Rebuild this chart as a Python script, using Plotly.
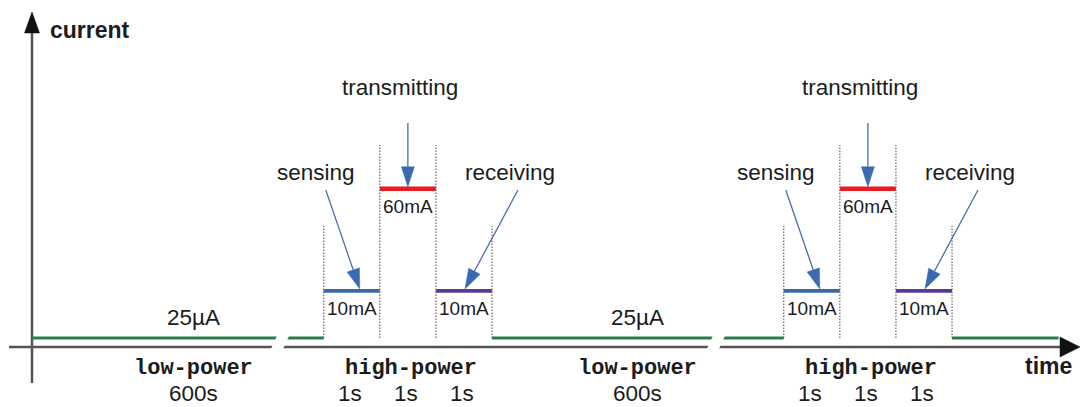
import plotly.graph_objects as go

# --- chart data ---
PHASES = ["low-power", "sensing", "transmitting", "receiving"]
PHASE_CURRENT = ["25µA", "10mA", "60mA", "10mA"]
PHASE_DURATION = ["600s", "1s", "1s", "1s"]
# schematic height of each current level (not to scale) and drawn span of each phase
DRAWN_LEVEL = [0.16, 1.0, 2.82, 1.0]
DRAWN_SPAN = [5.2, 1.0, 1.0, 1.0]
CYCLES = 2
TAIL_SPAN = 1.9
POINTED = ["sensing", "transmitting", "receiving"]
AXIS_TITLES = ["current", "time"]
BLOCK_LABELS = ["low-power", "high-power"]

# --- styles / layout constants ---
W, H = 1081, 407
ORIGIN = (32, 347)  # pixel position of the axes origin
PX = 56.1  # pixels per drawing unit, same on both axes

PHASE_COLOR = {"low-power": "#2e7b4a", "sensing": "#3a69a6",
               "transmitting": "#ea1b23", "receiving": "#56399b"}
PHASE_WIDTH = {"low-power": 3.2, "sensing": 3.6, "transmitting": 4.6, "receiving": 3.6}
AXIS_COLOR = "#555555"
POINTER_COLOR = "#4a6fa6"
HEAD_COLOR = "#3a6bb1"
TEXT_COLOR = "#1c1c1c"
SANS = "Liberation Sans, Arial, Helvetica, sans-serif"
MONO = "Liberation Mono, Courier New, monospace"

BREAK_OFFSET = [4.42, 3.99]      # where the low-power line is cut, per cycle
LOW_LABEL_OFFSET = [2.88, 2.6]   # centre of low-power labels, per cycle
DIVIDER_TOP = [2.16, 3.6, 3.6, 2.16]


def ux(p):
    return (p - ORIGIN[0]) / PX


def uy(p):
    return (ORIGIN[1] - p) / PX


def d(p):
    return p / PX


def head(tail, tip, length, half):
    dx, dy = tip[0] - tail[0], tip[1] - tail[1]
    n = (dx * dx + dy * dy) ** 0.5
    ex, ey = dx / n, dy / n
    bx, by = tip[0] - ex * length, tip[1] - ey * length
    xs = [tip[0], bx - ey * half, bx + ey * half, tip[0]]
    ys = [tip[1], by + ex * half, by - ex * half, tip[1]]
    return xs, ys, (bx, by)


fig = go.Figure()


def line(xs, ys, color, width, dash=None):
    fig.add_trace(go.Scatter(x=xs, y=ys, mode="lines", hoverinfo="skip",
                             line=dict(color=color, width=width, dash=dash)))


def poly(xs, ys, color):
    fig.add_trace(go.Scatter(x=xs, y=ys, mode="lines", fill="toself", fillcolor=color,
                             hoverinfo="skip", line=dict(color=color, width=0.5)))


def text(s, x, y, size, family=SANS, xanchor="center"):
    fig.add_annotation(x=x, y=y, text=s, showarrow=False, xanchor=xanchor, yanchor="middle",
                       font=dict(family=family, size=size, color=TEXT_COLOR))


# build the phase segments
segments = []
t = 0.0
for cycle in range(CYCLES):
    for i in range(len(PHASES)):
        segments.append((cycle, i, t, t + DRAWN_SPAN[i]))
        t += DRAWN_SPAN[i]
segments.append((CYCLES, 0, t, t + TAIL_SPAN))

# axes
x_tip, x_base = ux(1080), ux(1060)
y_tip, y_base = uy(12), uy(33)
line([ux(9), x_base], [0, 0], AXIS_COLOR, 2.5)
line([0, 0], [uy(383), y_base], AXIS_COLOR, 2.5)
xs, ys, _ = head((0, 0), (x_tip, 0), x_tip - x_base, d(10))
poly(xs, ys, "#111111")
xs, ys, _ = head((0, 0), (0, y_tip), y_tip - y_base, d(7.5))
poly(xs, ys, "#111111")

# current levels
for cycle, i, x0, x1 in segments:
    phase = PHASES[i]
    line([x0, x1], [DRAWN_LEVEL[i]] * 2, PHASE_COLOR[phase], PHASE_WIDTH[phase])

# dotted phase dividers
for cycle, i, x0, x1 in segments:
    if i == 0:
        continue
    if i == 1:
        line([x0, x0], [DRAWN_LEVEL[0], DIVIDER_TOP[0]], "#666666", 1.2, "1.5px,1.5px")
    line([x1, x1], [DRAWN_LEVEL[0], DIVIDER_TOP[i]], "#666666", 1.2, "1.5px,1.5px")

# slanted breaks in the compressed low-power stretch
for cycle, i, x0, x1 in segments:
    if i == 0 and cycle < CYCLES:
        bx = x0 + BREAK_OFFSET[cycle]
        by = DRAWN_LEVEL[0] / 2
        line([bx - d(5.5), bx + d(5.5)], [by - d(12), by + d(12)], "white", 11)

# labels on the time axis and current levels
for cycle, i, x0, x1 in segments:
    if cycle >= CYCLES:
        continue
    cx = (x0 + x1) / 2
    if i == 0:
        lx = x0 + LOW_LABEL_OFFSET[cycle]
        text(PHASE_CURRENT[i], lx, uy(317), 22.5)
        text("<b>" + BLOCK_LABELS[0] + "</b>", lx, uy(368), 22, MONO)
        text(PHASE_DURATION[i], lx, uy(393), 22.5)
    else:
        text(PHASE_CURRENT[i], cx, DRAWN_LEVEL[i] - d(18), 19)
        text(PHASE_DURATION[i], cx - d(2), uy(393), 22.5)
        if i == 2:
            text("<b>" + BLOCK_LABELS[1] + "</b>", cx + d(3), uy(368), 22, MONO)

# pointer labels: (label dx, label y), (tail dx, tail y), tip dx  -- pixels
POINTER_LAYOUT = {
    "sensing": ((-36, 172), (-26, 190), 8),
    "transmitting": ((-8, 87), (0, 123), 0),
    "receiving": ((46, 172), (54, 190), 1),
}
for cycle, i, x0, x1 in segments:
    phase = PHASES[i]
    if cycle >= CYCLES or phase not in POINTED:
        continue
    cx = (x0 + x1) / 2
    (lx, ly), (tx, ty), tipx = POINTER_LAYOUT[phase]
    text(phase, cx + d(lx), uy(ly), 22.5)
    tail = (cx + d(tx), uy(ty))
    tip = (cx + d(tipx), DRAWN_LEVEL[i] + d(2))
    xs, ys, base = head(tail, tip, d(20), d(6.5))
    line([tail[0], base[0]], [tail[1], base[1]], POINTER_COLOR, 1.3)
    poly(xs, ys, HEAD_COLOR)

# axis titles
text("<b>" + AXIS_TITLES[0] + "</b>", ux(48), uy(30), 23, xanchor="left")
text("<b>" + AXIS_TITLES[1] + "</b>", ux(1048), uy(366), 23)

fig.update_layout(
    width=W, height=H, autosize=False,
    margin=dict(l=0, r=0, t=0, b=0),
    paper_bgcolor="white", plot_bgcolor="white",
    showlegend=False, hovermode=False,
    xaxis=dict(range=[ux(0), ux(W)], visible=False, fixedrange=True),
    yaxis=dict(range=[uy(H), uy(0)], visible=False, fixedrange=True),
)
# drop the default page margin so the figure sits flush in the window
fig.write_html("out.html", config={"displayModeBar": False},
               post_script="document.body.style.margin = '0';")
